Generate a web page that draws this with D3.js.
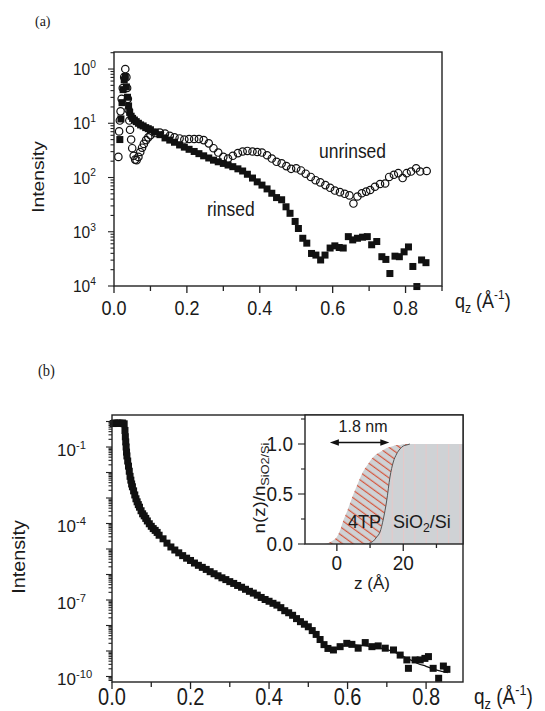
<!DOCTYPE html>
<html>
<head>
<meta charset="utf-8">
<script src="https://cdn.jsdelivr.net/npm/d3@7"></script>
<style>
body { margin: 0; background: #fff; }
text { white-space: pre; }
</style>
</head>
<body>
<script>
// panel (a): q_z in 1/A, intensity as log10
var rinsedQ = [0.016,0.019,0.022,0.025,0.028,0.031,0.034,0.037,0.040,0.043,0.047,0.051,0.056,0.061,0.067,0.073,0.080,0.087,0.094,
	0.100,0.113,0.126,0.140,0.153,0.166,0.180,0.193,0.206,0.220,0.233,0.246,0.260,0.273,0.286,0.300,0.313,0.326,0.340,0.353,0.366,0.380,0.393,0.406,0.420,0.433,0.446,
	0.460,0.472,0.483,0.497,0.506,0.518,0.529,0.542,0.554,0.567,0.579,0.593,0.606,0.618,0.629,0.643,0.655,0.668,0.682,0.695,0.707,0.721,0.735,0.746,0.757,0.771,0.783,0.796,0.808,0.820,0.831,0.844,0.856];
var rinsedLog = [-1.30,-0.92,-0.62,-0.38,-0.20,-0.14,-0.33,-0.52,-0.68,-0.80,-0.87,-0.91,-0.94,-0.97,-1.00,-1.03,-1.05,-1.08,-1.10,
	-1.12,-1.16,-1.21,-1.27,-1.31,-1.35,-1.40,-1.44,-1.48,-1.52,-1.56,-1.60,-1.64,-1.68,-1.71,-1.74,-1.77,-1.80,-1.84,-1.88,-1.94,-2.01,-2.08,-2.14,-2.21,-2.29,-2.37,
	-2.41,-2.54,-2.66,-2.81,-2.94,-3.12,-3.21,-3.40,-3.43,-3.52,-3.43,-3.30,-3.26,-3.29,-3.30,-3.09,-3.15,-3.12,-3.10,-3.09,-3.24,-3.18,-3.46,-3.51,-3.77,-3.45,-3.46,-3.37,-3.28,-3.64,-4.01,-3.52,-3.57];

var unrinsedQ = [0.012,0.014,0.016,0.018,0.021,0.024,0.028,0.031,0.034,0.036,0.038,0.040,0.042,0.044,0.047,0.050,0.054,0.058,0.062,0.067,0.072,0.077,0.082,0.088,0.094,
	0.100,0.113,0.126,0.140,0.153,0.166,0.180,0.193,0.206,0.220,0.233,0.246,0.260,0.273,0.286,0.300,0.313,0.326,0.340,0.353,0.366,0.380,0.393,0.406,0.420,0.433,0.446,
	0.460,0.473,0.486,0.500,0.513,0.526,0.540,0.553,0.566,0.580,0.593,0.606,0.620,0.633,0.646,
	0.657,0.668,0.680,0.692,0.703,0.716,0.730,0.744,0.755,0.768,0.780,0.792,0.803,0.815,0.829,0.840,0.858];
var unrinsedLog = [-1.62,-1.15,-0.95,-0.78,-0.55,-0.35,-0.15,0.00,-0.15,-0.35,-0.55,-0.75,-0.95,-1.12,-1.30,-1.46,-1.60,-1.67,-1.68,-1.62,-1.53,-1.45,-1.38,-1.31,-1.26,
	-1.22,-1.18,-1.17,-1.19,-1.23,-1.26,-1.28,-1.30,-1.29,-1.29,-1.29,-1.31,-1.37,-1.46,-1.54,-1.62,-1.65,-1.60,-1.55,-1.52,-1.51,-1.52,-1.53,-1.54,-1.59,-1.65,-1.71,
	-1.74,-1.79,-1.84,-1.83,-1.87,-1.93,-1.99,-2.05,-2.09,-2.14,-2.19,-2.24,-2.27,-2.30,-2.33,
	-2.48,-2.35,-2.29,-2.26,-2.23,-2.17,-2.12,-2.11,-1.99,-1.95,-1.92,-2.01,-1.92,-1.89,-1.83,-1.89,-1.88];

// panel (b): measured points and fitted curve
var bQ = [0.003,0.007,0.011,0.015,0.019,0.023,0.027,0.031,
	0.033,0.034,0.035,0.036,0.037,0.038,0.040,0.042,0.044,0.046,0.048,0.050,0.052,0.055,0.058,0.061,0.064,0.067,0.070,0.074,0.078,0.082,0.086,0.090,0.095,0.100,0.105,0.110,0.115,0.120,
	0.13,0.14,0.15,0.16,0.17,0.18,0.19,0.20,0.21,0.22,0.23,0.24,0.25,0.26,0.27,0.28,0.29,0.30,0.31,0.32,0.33,0.34,0.35,0.36,0.37,0.38,0.39,0.40,0.41,0.42,0.43,0.44,0.45,0.46,0.47,0.48,0.49,0.50,0.51,0.52,0.53,0.54,0.55,
	0.564,0.581,0.598,0.611,0.627,0.645,0.662,0.678,0.696,0.717,0.734,0.751,0.755,0.772,0.785,0.797,0.806,0.818,0.832,0.844,0.853];
var bLog = [-0.08,-0.06,-0.07,-0.06,-0.07,-0.07,-0.06,-0.09,
	-0.35,-0.60,-0.80,-1.00,-1.20,-1.35,-1.55,-1.75,-1.95,-2.15,-2.30,-2.45,-2.56,-2.72,-2.88,-3.03,-3.15,-3.26,-3.36,-3.50,-3.62,-3.70,-3.80,-3.90,-4.01,-4.11,-4.20,-4.27,-4.35,-4.46,
	-4.60,-4.77,-4.92,-5.04,-5.15,-5.26,-5.36,-5.45,-5.55,-5.64,-5.72,-5.80,-5.89,-5.97,-6.05,-6.13,-6.20,-6.28,-6.35,-6.43,-6.50,-6.58,-6.66,-6.73,-6.81,-6.90,-6.98,-7.05,-7.13,-7.20,-7.30,-7.42,-7.50,-7.60,-7.73,-7.85,-7.95,-8.05,-8.20,-8.35,-8.55,-8.75,-8.90,
	-8.96,-8.83,-8.70,-8.74,-8.89,-8.67,-8.83,-8.80,-8.89,-8.96,-9.16,-9.35,-9.68,-9.35,-9.35,-9.29,-9.22,-9.68,-10.07,-9.59,-9.72];

var fitQ = [0,0.030,0.033,0.036,0.040,0.045,0.050,0.060,0.070,0.080,0.100,0.120,0.150,0.200,0.250,0.300,0.350,0.400,0.450,0.500,0.520,0.540,0.560,0.580,0.600,0.620,0.640,0.660,0.680,0.700,0.720,0.740,0.760,0.780,0.800,0.820,0.840,0.855];
var fitLog = [-0.08,-0.08,-0.50,-1.00,-1.55,-2.05,-2.45,-3.00,-3.36,-3.66,-4.11,-4.46,-4.92,-5.45,-5.89,-6.28,-6.66,-7.05,-7.50,-8.05,-8.35,-8.72,-8.92,-8.85,-8.76,-8.76,-8.79,-8.83,-8.88,-8.95,-9.05,-9.20,-9.35,-9.50,-9.60,-9.72,-9.80,-9.85];

// inset: density profile n(z)/n_SiO2/Si
var profZ = [-9.6,-4,-2.6,-1,0,1,2,3,4,5,6,7,8,9,10,11,12,13,14,15,16,17,18,19,20,21,22,24,38];
var profTotal = [0,0,0.01,0.04,0.07,0.14,0.24,0.32,0.41,0.50,0.58,0.66,0.73,0.78,0.83,0.87,0.90,0.92,0.94,0.96,0.97,0.98,0.99,0.99,1,1,1,1,1];
var profOxide = [0,0,0,0,0,0,0,0,0,0,0,0,0,0,0.01,0.03,0.07,0.12,0.25,0.43,0.67,0.82,0.90,0.95,0.98,0.99,1,1,1];
var arrowZ = [-2.1, 15.8];

var xTicks = [0, 0.2, 0.4, 0.6, 0.8];
var xMinor = [0.1, 0.3, 0.5, 0.7, 0.9];
var yDecadesA = [0, -1, -2, -3, -4];
var yLabelsA = ["0", "1", "2", "3", "4"];
var yLabelsB = [-1, -4, -7, -10];
var insetYTicks = [0, 0.5, 1.0];
var insetYMinor = [0.25, 0.75, 1.25];
var insetXTicks = [0, 20];
var insetXMinor = [10, 30];

var sans = "'Liberation Sans', Arial, Helvetica, sans-serif";
var serif = "'Liberation Serif', 'Times New Roman', serif";
var ink = "#1a1a1a";

var svg = d3.select("body").append("svg")
	.attr("width", 545)
	.attr("height", 711);

var defs = svg.append("defs");

function addText(g, x, y, parts, o) {
	o = o || {};
	var size = o.size || 18;
	var tf = "translate(" + x + "," + y + ") scale(1," + (o.stretch || 1) + ")" + (o.rotate ? " rotate(-90)" : "");
	var t = g.append("text")
		.attr("transform", tf)
		.attr("text-anchor", o.anchor || "start")
		.style("font-family", o.family || sans)
		.style("font-size", size + "px")
		.attr("fill", ink);
	if(typeof parts === "string") parts = [{t: parts}];
	var prev = 0;
	parts.forEach(p => {
		var dy = 0, fs = size;
		if(p.sup) { dy = -size * 0.42; fs = size * 0.66; }
		if(p.sub) { dy = size * 0.24; fs = size * 0.68; }
		t.append("tspan").attr("dy", dy - prev).style("font-size", fs + "px").text(p.t);
		prev = dy;
	});
	return t;
}

function frame(g, x, y) {
	g.append("rect")
		.attr("x", x.range()[0])
		.attr("y", y.range()[1])
		.attr("width", x.range()[1] - x.range()[0])
		.attr("height", y.range()[0] - y.range()[1])
		.attr("fill", "none")
		.attr("stroke", "#222")
		.attr("stroke-width", 1.4);
}

function xTickMarks(g, x, vals, y0, len) {
	g.selectAll(null).data(vals).enter().append("line")
		.attr("x1", d => x(d)).attr("x2", d => x(d))
		.attr("y1", y0).attr("y2", y0 + len)
		.attr("stroke", "#222").attr("stroke-width", 1.3);
}

function yTickMarks(g, y, vals, x0, len) {
	g.selectAll(null).data(vals).enter().append("line")
		.attr("x1", x0).attr("x2", x0 - len)
		.attr("y1", d => y(d)).attr("y2", d => y(d))
		.attr("stroke", "#222").attr("stroke-width", 1.1);
}

function logMinor(lo, hi) {
	var out = [];
	for(var d = Math.floor(Math.log10(lo)); d <= Math.ceil(Math.log10(hi)); d++) {
		for(var k = 2; k < 10; k++) {
			var v = k * Math.pow(10, d);
			if(v >= lo && v <= hi) out.push(v);
		}
	}
	return out;
}

function qLabel(g, x, y, size, stretch) {
	addText(g, x, y, [{t: "q"}, {t: "z", sub: true}, {t: " (Å"}, {t: "-1", sup: true}, {t: ")"}], {size: size, stretch: stretch});
}

// ---------------- panel (a) ----------------
var xA = d3.scaleLinear().domain([0, 0.9]).range([114, 442]);
var yA = d3.scaleLog().domain([1e-4, 2.06]).range([286, 52]);
var gA = svg.append("g");

addText(gA, 35, 26, "(a)", {size: 14, family: serif, stretch: 1.1});

var rinsed = rinsedQ.map((q, i) => [q, Math.pow(10, rinsedLog[i])]);
var unrinsed = unrinsedQ.map((q, i) => [q, Math.pow(10, unrinsedLog[i])]);

gA.selectAll("rect.rinsed")
	.data(rinsed)
	.enter()
	.append("rect")
	.attr("class", "rinsed")
	.attr("x", d => xA(d[0]) - 3.5)
	.attr("y", d => yA(d[1]) - 3.5)
	.attr("width", 7)
	.attr("height", 7)
	.attr("fill", "#111");

gA.selectAll("circle")
	.data(unrinsed)
	.enter()
	.append("circle")
	.attr("cx", d => xA(d[0]))
	.attr("cy", d => yA(d[1]))
	.attr("r", 3.7)
	.attr("fill", "none")
	.attr("stroke", "#111")
	.attr("stroke-width", 1.2);

frame(gA, xA, yA);
xTickMarks(gA, xA, xTicks, 286, 7);
xTickMarks(gA, xA, xMinor, 286, 5);
yTickMarks(gA, yA, yDecadesA.map(d => Math.pow(10, d)), 114, 6);
yTickMarks(gA, yA, logMinor(1e-4, 2.06), 114, 3.5);

xTicks.forEach(v => addText(gA, xA(v), 315, d3.format(".1f")(v), {size: 18, anchor: "middle", stretch: 1.17}));
yDecadesA.forEach((d, i) => addText(gA, 73, yA(Math.pow(10, d)) + 6, [{t: "10"}, {t: yLabelsA[i], sup: true}], {size: 15.5, stretch: 1.1}));
addText(gA, 44, 177, "Intensity", {size: 17, anchor: "middle", rotate: true, stretch: 1.13});
qLabel(gA, 455, 308, 18, 1.15);
addText(gA, 207, 216, "rinsed", {size: 17.5, stretch: 1.12});
addText(gA, 319, 158, "unrinsed", {size: 17.5, stretch: 1.12});

// ---------------- panel (b) ----------------
var xB = d3.scaleLinear().domain([0, 0.894]).range([112, 463]);
var yB = d3.scaleLog().domain([Math.pow(10, -10.216), Math.pow(10, 0.255)]).range([682, 415]);
var gB = svg.append("g");

addText(gB, 38, 376, "(b)", {size: 14.5, family: serif, stretch: 1.1});

var bPts = bQ.map((q, i) => [q, Math.pow(10, bLog[i])]);
var fit = fitQ.map((q, i) => [q, Math.pow(10, fitLog[i])]);

gB.selectAll("rect.pt")
	.data(bPts)
	.enter()
	.append("rect")
	.attr("class", "pt")
	.attr("x", d => xB(d[0]) - 3.5)
	.attr("y", d => yB(d[1]) - 3.5)
	.attr("width", 7)
	.attr("height", 7)
	.attr("fill", "#111");

gB.append("path")
	.datum(fit)
	.attr("d", d3.line().x(d => xB(d[0])).y(d => yB(d[1])).curve(d3.curveMonotoneX))
	.attr("fill", "none")
	.attr("stroke", "#111")
	.attr("stroke-width", 1.3);

frame(gB, xB, yB);
xTickMarks(gB, xB, xTicks, 682, 7);
xTickMarks(gB, xB, xMinor.filter(v => v < 0.894), 682, 5);
var decB = d3.range(-10, 1).map(d => Math.pow(10, d));
yTickMarks(gB, yB, decB, 112, 6);
yTickMarks(gB, yB, logMinor(Math.pow(10, -10.216), Math.pow(10, 0.255)), 112, 3.5);

xTicks.forEach(v => addText(gB, xB(v), 705, d3.format(".1f")(v), {size: 20, anchor: "middle", stretch: 1.15}));
yLabelsB.forEach(d => addText(gB, 57, yB(Math.pow(10, d)) + 9, [{t: "10"}, {t: "-" + Math.abs(d), sup: true}], {size: 17}));
addText(gB, 25, 557, "Intensity", {size: 17.5, anchor: "middle", rotate: true, stretch: 1.13});
qLabel(gB, 474, 704, 19, 1.12);

// ---------------- inset ----------------
var xI = d3.scaleLinear().domain([-9.6, 38]).range([305, 463]);
var yI = d3.scaleLinear().domain([0, 1.29]).range([544, 415]);
var gI = svg.append("g");

gI.append("rect")
	.attr("x", 305).attr("y", 415)
	.attr("width", 158).attr("height", 129)
	.attr("fill", "#fff");

defs.append("clipPath").attr("id", "insetClip")
	.append("rect").attr("x", 305).attr("y", 415).attr("width", 158).attr("height", 129);

var hatch = defs.append("pattern")
	.attr("id", "hatch")
	.attr("patternUnits", "userSpaceOnUse")
	.attr("width", 10)
	.attr("height", 6.2)
	.attr("patternTransform", "rotate(36)");
hatch.append("line")
	.attr("x1", 0).attr("x2", 10).attr("y1", 3).attr("y2", 3)
	.attr("stroke", "#d4553c").attr("stroke-width", 1.2);

var stripes = defs.append("pattern")
	.attr("id", "stripes")
	.attr("patternUnits", "userSpaceOnUse")
	.attr("x", 403)
	.attr("width", 11.3)
	.attr("height", 10);
stripes.append("line")
	.attr("x1", 0.5).attr("x2", 0.5).attr("y1", 0).attr("y2", 10)
	.attr("stroke", "#e6c8c8").attr("stroke-width", 1);

var prof = profZ.map((z, i) => ({z: z, t: profTotal[i], o: profOxide[i]}));
var gClip = gI.append("g").attr("clip-path", "url(#insetClip)");

gClip.append("path")
	.datum(prof)
	.attr("d", d3.area().x(d => xI(d.z)).y0(yI(0)).y1(d => yI(d.t)).curve(d3.curveMonotoneX))
	.attr("fill", "#cfd2d5");

gClip.append("path")
	.datum(prof)
	.attr("d", d3.area().x(d => xI(d.z)).y0(d => yI(d.o)).y1(d => yI(d.t)).curve(d3.curveMonotoneX))
	.attr("fill", "url(#hatch)");

gClip.append("path")
	.datum(prof)
	.attr("d", d3.area().x(d => xI(d.z)).y0(yI(0)).y1(d => yI(d.o)).curve(d3.curveMonotoneX))
	.attr("fill", "url(#stripes)");

gClip.append("path")
	.datum(prof.filter(d => d.z >= 8 && d.z <= 22))
	.attr("d", d3.line().x(d => xI(d.z)).y(d => yI(d.o)).curve(d3.curveMonotoneX))
	.attr("fill", "none")
	.attr("stroke", "#555")
	.attr("stroke-width", 1);

frame(gI, xI, yI);
xTickMarks(gI, xI, insetXTicks, 544, 7);
xTickMarks(gI, xI, insetXMinor, 544, 4);
yTickMarks(gI, yI, insetYTicks, 305, 7);
yTickMarks(gI, yI, insetYMinor, 305, 4);

insetYTicks.forEach(v => addText(gI, 293, yI(v) + 7, d3.format(".1f")(v), {size: 19, anchor: "end", stretch: 1.05}));
insetXTicks.forEach(v => addText(gI, xI(v), 570, String(v), {size: 19, anchor: "middle", stretch: 1.05}));
addText(gI, 372, 589, "z (Å)", {size: 17, anchor: "middle"});
addText(gI, 265, 488, [{t: "n(z)/n"}, {t: "SiO2/Si", sub: true}], {size: 17, anchor: "middle", rotate: true, stretch: 1.1});

// arrow for the 1.8 nm layer
var ay = yI(1.0) - 1.5;
var ax0 = xI(arrowZ[0]), ax1 = xI(arrowZ[1]);
gI.append("line")
	.attr("x1", ax0 + 4).attr("x2", ax1 - 4)
	.attr("y1", ay).attr("y2", ay)
	.attr("stroke", "#111").attr("stroke-width", 1.3);
gI.selectAll("path.head")
	.data([[ax0, 1], [ax1, -1]])
	.enter()
	.append("path")
	.attr("class", "head")
	.attr("d", d => "M" + d[0] + "," + ay + "l" + (9 * d[1]) + ",-3.2l0,6.4z")
	.attr("fill", "#111");
addText(gI, 363, 432, "1.8 nm", {size: 16, anchor: "middle", stretch: 1.05});
addText(gI, 348, 528, "4TP", {size: 18});
addText(gI, 393, 528, [{t: "SiO"}, {t: "2", sub: true}, {t: "/Si"}], {size: 18});
</script>
</body>
</html>
